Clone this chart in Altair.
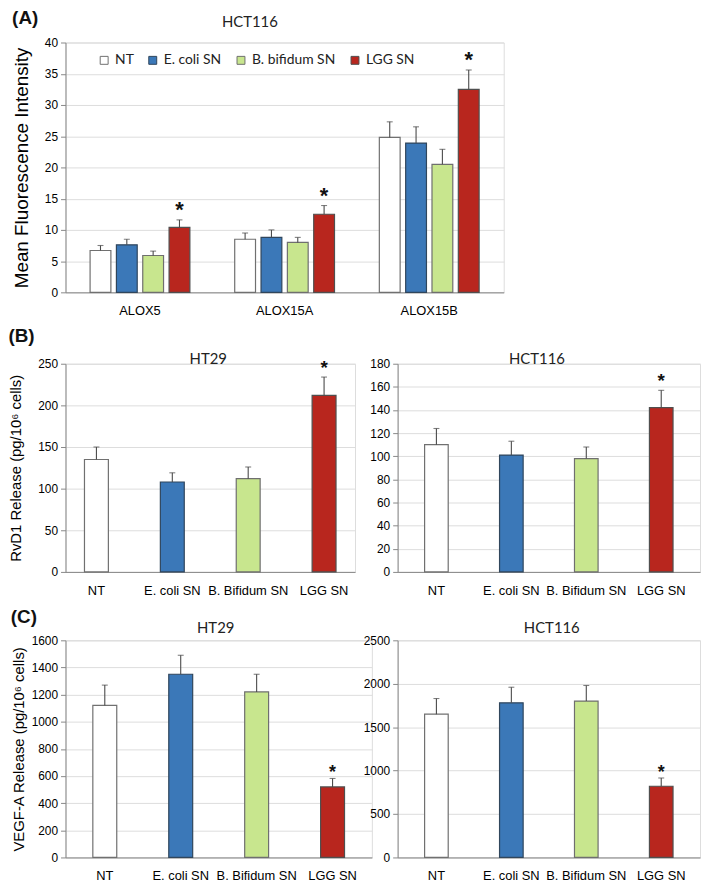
import altair as alt
import pandas as pd

LABEL_FONT = "Lato"
TITLE_FONT = "Liberation Sans"

# ---------------- data ----------------
treatments_a = ["NT", "E. coli SN", "B. bifidum SN", "LGG SN"]
treatments_bc = ["NT", "E. coli SN", "B. Bifidum SN", "LGG SN"]
fill_colors = ["#ffffff", "#3b78b8", "#c8e68e", "#b8261e"]
stroke_colors = ["#707070", "#30465c", "#6f6f6f", "#4f4f4f"]
significant = [False, False, False, True]

genes = ["ALOX5", "ALOX15A", "ALOX15B"]
alox5_mean = [6.7, 7.6, 5.9, 10.4]
alox5_top = [7.5, 8.5, 6.6, 11.6]
alox15a_mean = [8.5, 8.8, 8.0, 12.5]
alox15a_top = [9.5, 10.0, 8.8, 13.9]
alox15b_mean = [24.8, 23.9, 20.5, 32.5]
alox15b_top = [27.3, 26.5, 22.9, 35.6]

rvd1_ht29_mean = [135, 108, 112, 212]
rvd1_ht29_top = [150, 119, 126, 234]
rvd1_hct116_mean = [110, 101, 98, 142]
rvd1_hct116_top = [124, 113, 108, 157]

vegf_ht29_mean = [1120, 1350, 1220, 520]
vegf_ht29_top = [1270, 1490, 1350, 582]
vegf_hct116_mean = [1650, 1780, 1800, 820]
vegf_hct116_top = [1830, 1960, 1980, 915]

ERR_COLOR = "#4a4a4a"


def panel_title(text, dx, offset):
    return alt.Title(text, font=LABEL_FONT, fontSize=15, fontWeight="normal",
                     color="#222222", anchor="middle", dx=dx, offset=offset)


def row_title(text, offset):
    return alt.Title(text, font=TITLE_FONT, fontSize=19, fontWeight="bold",
                     color="#111111", anchor="start", offset=offset)


# ---------------- panel A ----------------
rows = []
for g, means, tops in zip(genes,
                          [alox5_mean, alox15a_mean, alox15b_mean],
                          [alox5_top, alox15a_top, alox15b_top]):
    for tr, mv, tv, s in zip(treatments_a, means, tops, significant):
        rows.append({"gene": g, "treat": tr, "mean": mv, "top": tv, "sig": s})
dfA = pd.DataFrame(rows)

yA_title = "Mean Fluorescence Intensity"
xA = alt.X("gene:N", sort=genes, title=None,
           scale=alt.Scale(paddingInner=0.31, paddingOuter=0.17),
           axis=alt.Axis(labelAngle=0, ticks=False, labelPadding=12,
                         labelFontSize=13))
offA = alt.XOffset("treat:N", sort=treatments_a,
                   scale=alt.Scale(paddingInner=0.21, paddingOuter=0))
axisA = alt.Axis(values=list(range(0, 41, 5)), titleFont=TITLE_FONT,
                 titleFontSize=19, titleFontWeight="normal", titlePadding=13,
                 labelFontSize=12, labelPadding=3, tickSize=5)
scaleA = alt.Scale(domain=[0, 40], nice=False)

baseA = alt.Chart(dfA)
barsA = baseA.mark_bar(strokeWidth=1.2).encode(
    x=xA, xOffset=offA,
    y=alt.Y("mean:Q", title=yA_title, scale=scaleA, axis=axisA),
    fill=alt.Fill("treat:N", sort=treatments_a,
                  scale=alt.Scale(domain=treatments_a, range=fill_colors),
                  legend=alt.Legend(title=None, orient="none", legendX=32,
                                    legendY=11, direction="horizontal",
                                    symbolType="square", symbolSize=64,
                                    symbolStrokeColor="#444444",
                                    symbolStrokeWidth=1, labelFont=LABEL_FONT,
                                    labelFontSize=14, labelColor="#222222",
                                    columnPadding=12, labelOffset=4)),
    stroke=alt.Stroke("treat:N", sort=treatments_a,
                      scale=alt.Scale(domain=treatments_a, range=stroke_colors),
                      legend=None),
)
errA = baseA.mark_rule(color=ERR_COLOR, strokeWidth=1.1).encode(
    x=xA, xOffset=offA,
    y=alt.Y("mean:Q", title=yA_title, scale=scaleA, axis=axisA), y2="top:Q")
capA = baseA.mark_tick(color=ERR_COLOR, size=6, thickness=1.1).encode(
    x=xA, xOffset=offA,
    y=alt.Y("top:Q", title=yA_title, scale=scaleA, axis=axisA))
starA = baseA.transform_filter("datum.sig").mark_text(
    text="*", font=TITLE_FONT, fontSize=22, fontWeight="bold",
    baseline="alphabetic", dy=-3, color="#111111").encode(
    x=xA, xOffset=offA,
    y=alt.Y("top:Q", title=yA_title, scale=scaleA, axis=axisA))

chartA = alt.layer(barsA, errA, capA, starA).properties(
    width=442, height=252, title=panel_title("HCT116", -35, 7))


# ---------------- panels B / C ----------------
def bc_panel(means, tops, ymax, ystep, ytitle, width, height, title, tdx,
             toffset, star_size, star_dy, title_pad, x_pad, pad_outer):
    df = pd.DataFrame({"treat": treatments_bc, "mean": means, "top": tops,
                       "sig": significant})
    x = alt.X("treat:N", sort=treatments_bc, title=None,
              scale=alt.Scale(paddingInner=0.685, paddingOuter=pad_outer),
              axis=alt.Axis(labelAngle=0, ticks=False, labelPadding=x_pad,
                            labelFontSize=13))
    axis = alt.Axis(values=list(range(0, ymax + 1, ystep)), format="d",
                    titleFont=TITLE_FONT, titleFontSize=15,
                    titleFontWeight="normal", titlePadding=title_pad,
                    labelFontSize=12, labelPadding=3, tickSize=5)
    scale = alt.Scale(domain=[0, ymax], nice=False)
    base = alt.Chart(df)
    bars = base.mark_bar(strokeWidth=1.2).encode(
        x=x,
        y=alt.Y("mean:Q", title=ytitle, scale=scale, axis=axis),
        fill=alt.Fill("treat:N", sort=treatments_bc,
                      scale=alt.Scale(domain=treatments_bc, range=fill_colors),
                      legend=None),
        stroke=alt.Stroke("treat:N", sort=treatments_bc,
                          scale=alt.Scale(domain=treatments_bc,
                                          range=stroke_colors),
                          legend=None),
    )
    err = base.mark_rule(color=ERR_COLOR, strokeWidth=1.1).encode(
        x=x, y=alt.Y("mean:Q", title=ytitle, scale=scale, axis=axis),
        y2="top:Q")
    cap = base.mark_tick(color=ERR_COLOR, size=6, thickness=1.1).encode(
        x=x, y=alt.Y("top:Q", title=ytitle, scale=scale, axis=axis))
    star = base.transform_filter("datum.sig").mark_text(
        text="*", font=TITLE_FONT, fontSize=star_size, fontWeight="bold",
        baseline="alphabetic", dy=star_dy, color="#111111").encode(
        x=x, y=alt.Y("top:Q", title=ytitle, scale=scale, axis=axis))
    return alt.layer(bars, err, cap, star).properties(
        width=width, height=height, title=panel_title(title, tdx, toffset))


rvd1_title = "RvD1 Release (pg/10\u2076 cells)"
vegf_title = "VEGF-A Release (pg/10\u2076 cells)"

b1 = bc_panel(rvd1_ht29_mean, rvd1_ht29_top, 250, 50, rvd1_title, 292, 210,
              "HT29", -2, -9, 19, -3, 14, 13, 0.25)
b2 = bc_panel(rvd1_hct116_mean, rvd1_hct116_top, 180, 20, None, 305, 210,
              "HCT116", -12, -9, 19, -3, 3, 13, 0.36)
c1 = bc_panel(vegf_ht29_mean, vegf_ht29_top, 1600, 200, vegf_title, 309, 219,
              "HT29", -3, -2, 18, 0, 5, 12, 0.36)
c2 = bc_panel(vegf_hct116_mean, vegf_hct116_top, 2500, 500, None, 305, 219,
              "HCT116", 3, -2, 18, 0, 5, 12, 0.36)

rowA = alt.hconcat(chartA).properties(title=row_title("(A)", -14))
rowB = alt.hconcat(b1, b2, spacing=43, bounds="flush").properties(
    title=row_title("(B)", 5))
rowC = alt.hconcat(c1, c2, spacing=26, bounds="flush").properties(
    title=row_title("(C)", -6))

chart = alt.concat(rowA, rowB, rowC, columns=1, align="none", spacing=9
).resolve_scale(fill="independent", stroke="independent"
).configure_view(
    stroke=None
).configure_axis(
    domainColor="#8c8c8c", domainWidth=1.3, tickColor="#8c8c8c",
    tickWidth=1.2, labelColor="#222222", labelFont=LABEL_FONT,
    titleColor="#222222", grid=False
).configure(padding={"top": -3, "left": 0, "right": 0, "bottom": 0})

chart.save("out.html", embed_options={"renderer": "svg", "actions": False})
